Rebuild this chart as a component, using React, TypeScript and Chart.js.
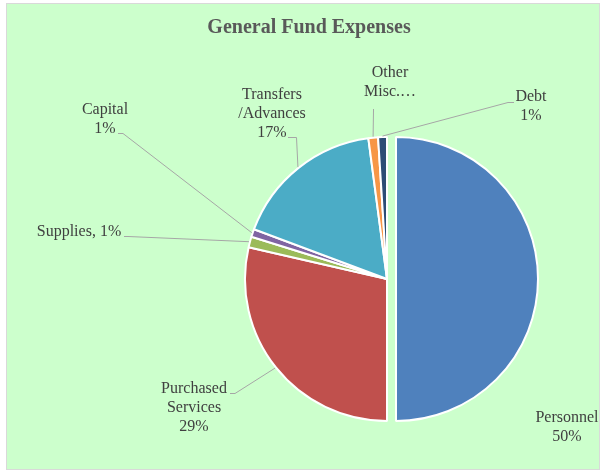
import React, { useEffect, useRef } from "react";
import { Chart, registerables } from "chart.js";

Chart.register(...registerables);

// ---- data ----
const chartTitle = "General Fund Expenses";
const categories = [
  "Personnel",
  "Purchased Services",
  "Supplies",
  "Capital",
  "Transfers /Advances",
  "Other Misc.…",
  "Debt",
];
const values = [50.0, 28.6, 1.2, 0.9, 17.2, 1.1, 1.0];
const sliceColors = [
  "#4F81BD",
  "#C0504D",
  "#9BBB59",
  "#8064A2",
  "#4BACC6",
  "#F79646",
  "#2C4D75",
];

// ---- layout / style (not data) ----
const EXPLODE_PX = [9, 0, 0, 0, 0, 0, 0];
const LABEL_FONT = '16px "Liberation Serif", "Times New Roman", serif';
const TITLE_FONT = 'bold 20px "Liberation Serif", "Times New Roman", serif';
const LINE_H = 18.7;
type Lay = { cx: number; cy: number; mode: "stack" | "inline" | "name"; leader: number[][] | null };
const labelLayout: Lay[] = [
  { cx: 567, cy: 418, mode: "stack", leader: null },
  { cx: 194, cy: 389, mode: "stack", leader: [[230, 393.5], [235, 393.5]] },
  { cx: 79, cy: 232, mode: "inline", leader: [[124, 236.5], [128, 236.5]] },
  { cx: 105, cy: 110, mode: "stack", leader: [[118, 133.5], [123, 133.5]] },
  { cx: 272, cy: 95, mode: "stack", leader: [[288, 137.5], [296.5, 137.5]] },
  { cx: 390, cy: 73, mode: "name", leader: [[373.5, 109], [373.5, 110]] },
  { cx: 531, cy: 97, mode: "stack", leader: [[514, 102.5], [508, 102.5]] },
];

const explodePlugin = {
  id: "explodeSlices",
  beforeDatasetDraw(chart: any, args: any) {
    const ctx = chart.ctx as CanvasRenderingContext2D;
    const meta = args.meta;
    meta.data.forEach((arc: any, i: number) => {
      const p = arc.getProps(["startAngle", "endAngle"], true);
      const mid = (p.startAngle + p.endAngle) / 2;
      const d = EXPLODE_PX[i] || 0;
      ctx.save();
      ctx.translate(Math.cos(mid) * d, Math.sin(mid) * d);
      arc.draw(ctx, chart.chartArea);
      ctx.restore();
    });
    return false;
  },
};

const labelPlugin = {
  id: "pieLabels",
  afterDatasetsDraw(chart: any) {
    const ctx = chart.ctx as CanvasRenderingContext2D;
    const meta = chart.getDatasetMeta(0);
    const total = values.reduce((a, b) => a + b, 0);
    ctx.save();
    ctx.textAlign = "center";
    ctx.textBaseline = "middle";
    ctx.font = TITLE_FONT;
    ctx.fillStyle = "#595959";
    ctx.fillText(chartTitle, 309, 28);

    meta.data.forEach((arc: any, i: number) => {
      const p = arc.getProps(["x", "y", "startAngle", "endAngle", "outerRadius"], true);
      const mid = (p.startAngle + p.endAngle) / 2;
      const lay = labelLayout[i];
      if (lay.leader) {
        const r = p.outerRadius + 1;
        const ax = p.x + Math.cos(mid) * r;
        const ay = p.y + Math.sin(mid) * r;
        ctx.beginPath();
        ctx.moveTo(lay.leader[0][0], lay.leader[0][1]);
        ctx.lineTo(lay.leader[1][0], lay.leader[1][1]);
        ctx.lineTo(ax, ay);
        ctx.strokeStyle = "#A6A6A6";
        ctx.lineWidth = 1;
        ctx.stroke();
      }
      const pct = Math.round((values[i] / total) * 100) + "%";
      let lines: string[];
      if (lay.mode === "inline") lines = [categories[i] + ", " + pct];
      else if (lay.mode === "name") lines = categories[i].split(" ");
      else lines = [...categories[i].split(" "), pct];
      ctx.font = LABEL_FONT;
      ctx.fillStyle = "#404040";
      lines.forEach((t, k) => ctx.fillText(t, lay.cx, lay.cy + k * LINE_H));
    });
    ctx.restore();
  },
};

export default function App() {
  const ref = useRef<HTMLCanvasElement | null>(null);
  useEffect(() => {
    if (!ref.current) return;
    const chart = new Chart(ref.current, {
      type: "pie",
      data: {
        labels: categories,
        datasets: [
          {
            data: values,
            backgroundColor: sliceColors,
            borderColor: "#FFFFFF",
            borderWidth: 2,
            radius: 142,
          } as any,
        ],
      },
      options: {
        responsive: false,
        animation: false,
        devicePixelRatio: 1,
        events: [],
        radius: 142,
        layout: { padding: { left: 174, right: 0, top: 88, bottom: 0 } },
        plugins: {
          legend: { display: false },
          tooltip: { enabled: false },
          title: { display: false },
        },
      } as any,
      plugins: [explodePlugin, labelPlugin],
    });
    return () => chart.destroy();
  }, []);

  return (
    <div
      style={{
        position: "fixed",
        left: 0,
        top: 0,
        width: 600,
        height: 470,
        overflow: "hidden",
        background: "#FFFFFF",
      }}
    >
      <div
        style={{
          position: "absolute",
          left: 6,
          top: 3,
          width: 594,
          height: 467,
          boxSizing: "border-box",
          border: "1px solid #D9D9D9",
          background: "#CCFFCC",
        }}
      />
      <canvas
        ref={ref}
        width={600}
        height={470}
        style={{ position: "absolute", left: 0, top: 0, width: 600, height: 470 }}
      />
    </div>
  );
}
